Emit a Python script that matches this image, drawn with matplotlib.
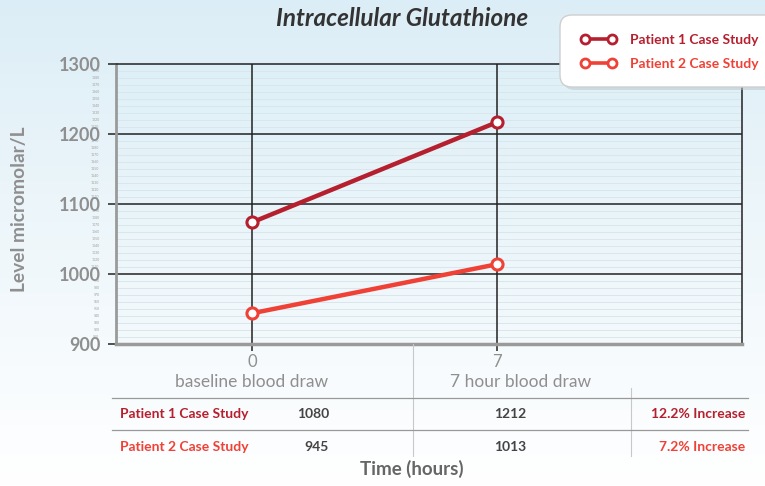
import numpy as np
import matplotlib
matplotlib.use("Agg")
import matplotlib.pyplot as plt
from matplotlib.patches import FancyBboxPatch

plt.rcParams['font.family'] = ['Lato', 'DejaVu Sans']

# data
hours = [0, 7]
patient1 = [1074, 1217]
patient2 = [944, 1014]
series_names = ["Patient 1 Case Study", "Patient 2 Case Study"]
draw_labels = ["baseline blood draw", "7 hour blood draw"]
table_base = ["1080", "945"]
table_7h = ["1212", "1013"]
table_change = ["12.2% Increase", "7.2% Increase"]

c1 = "#b51f2e"
c2 = "#ef4136"
gray = "#8f8f8f"

W, H = 765, 486
fig = plt.figure(figsize=(W / 100, H / 100), dpi=100)

# background gradient
bg = fig.add_axes([0, 0, 1, 1], zorder=-5)
grad = np.linspace(0, 1, 256)[:, None]
top = np.array([0.86, 0.93, 0.965])
bot = np.array([1.0, 1.0, 1.0])
img = top + (bot - top) * grad[..., None] ** 0.9
bg.imshow(img, aspect='auto', extent=[0, 1, 0, 1], origin='upper')
bg.axis('off')

def px(x0, y0, x1, y1):
    return [x0 / W, 1 - y1 / H, (x1 - x0) / W, (y1 - y0) / H]

ax = fig.add_axes(px(116, 64, 742, 344))
ax.set_facecolor('none')
# slightly bluer band in the upper part of the plot
band = np.linspace(0, 1, 256)[:, None]
btop = np.array([0.87, 0.94, 0.97])
bbot = np.array([0.955, 0.978, 0.988])
ax.imshow(btop + (bbot - btop) * band[..., None], aspect='auto',
          extent=[-3.9, 14, 900, 1300], origin='upper', zorder=0)

ax.set_xlim(-3.9, 14)
ax.set_ylim(900, 1300)

minor = [v for v in range(910, 1300, 10) if v % 100]
for v in minor:
    ax.axhline(v, color="#dbe6ec", lw=0.7, zorder=1)
for v in [1000, 1100, 1200]:
    ax.axhline(v, color="#222222", lw=1.1, zorder=2)
for v in [0, 7]:
    ax.axvline(v, color="#222222", lw=1.1, zorder=2)

ax.plot(hours, patient1, color=c1, lw=3.2, marker='o', ms=8, mfc='white',
        mec=c1, mew=2.2, zorder=5, label=series_names[0])
ax.plot(hours, patient2, color=c2, lw=3.2, marker='o', ms=8, mfc='white',
        mec=c2, mew=2.2, zorder=5, label=series_names[1])

ax.set_yticks([900, 1000, 1100, 1200, 1300])
ax.set_yticklabels(["900", "1000", "1100", "1200", "1300"], fontsize=13,
                   fontweight='bold', color=gray)
ax.set_yticks(minor, minor=True)
ax.set_yticklabels([str(v) for v in minor], minor=True, fontsize=2.5,
                   color="#a0a0a0")
ax.tick_params(axis='y', which='major', length=6, width=1.1, color="#222222", pad=5)
ax.tick_params(axis='y', which='minor', length=0, pad=12)
ax.set_xticks(hours)
ax.set_xticklabels([str(h) for h in hours], fontsize=12, color=gray)
ax.tick_params(axis='x', length=5, width=1.1, color="#222222", pad=2)

for s in ['top', 'right']:
    ax.spines[s].set_color("#222222")
    ax.spines[s].set_linewidth(1.1)
ax.spines['left'].set_color("#9a9a9a")
ax.spines['left'].set_linewidth(2)
ax.spines['bottom'].set_color("#9a9a9a")
ax.spines['bottom'].set_linewidth(2.5)
ax.spines['bottom'].set_zorder(6)

ax.set_ylabel("Level micromolar/L", fontsize=13.8, fontweight='bold', color=gray)
ax.yaxis.set_label_coords((28 - 116) / 626, (344 - 209) / 280)

fig.text(402 / W, 1 - 18 / H, "Intracellular Glutathione", fontsize=17.5,
         fontweight='bold', style='italic', color="#333333",
         ha='center', va='center')

# table and annotations in pixel coordinates
ov = fig.add_axes([0, 0, 1, 1], zorder=3)
ov.set_xlim(0, W)
ov.set_ylim(H, 0)
ov.axis('off')

ov.plot([413, 413], [344, 456], color="#c8c8c8", lw=0.8)
ov.plot([631, 631], [388, 456], color="#c8c8c8", lw=0.8)
ov.plot([112, 748], [398, 398], color="#999999", lw=0.9)
ov.plot([112, 748], [430, 430], color="#999999", lw=0.9)

ov.text(252, 382, draw_labels[0], fontsize=12.5, color=gray, ha='center', va='center')
ov.text(521, 382, draw_labels[1], fontsize=12.5, color=gray, ha='center', va='center')

row_y = [414, 447]
row_c = [c1, c2]
for i in range(2):
    y = row_y[i]
    ov.text(120, y, series_names[i], fontsize=10, fontweight='bold', color=row_c[i],
            ha='left', va='center')
    ov.text(329, y, table_base[i], fontsize=10, fontweight='bold', color="#444444",
            ha='right', va='center')
    ov.text(510, y, table_7h[i], fontsize=10, fontweight='bold', color="#444444",
            ha='center', va='center')
    ov.text(745, y, table_change[i], fontsize=10, fontweight='bold', color=row_c[i],
            ha='right', va='center')

ov.text(412, 469, "Time (hours)", fontsize=13.5, fontweight='bold', color="#666666",
        ha='center', va='center')

# legend box with shadow
shadow = FancyBboxPatch((563, 18), 220, 72, boxstyle="round,pad=0,rounding_size=12",
                        fc="#b8c4ca", ec='none', alpha=0.5, zorder=1)
box = FancyBboxPatch((560, 15), 220, 72, boxstyle="round,pad=0,rounding_size=12",
                     fc="white", ec="#cfcfcf", lw=1, zorder=2)
ov.add_patch(shadow)
ov.add_patch(box)
handles, labels = ax.get_legend_handles_labels()
leg = fig.legend(handles, labels, loc='upper left',
                 bbox_to_anchor=(568 / W, 1 - 21 / H), frameon=False,
                 numpoints=2, handlelength=2.6, handletextpad=1.0,
                 labelspacing=0.9, prop={'size': 10, 'weight': 'bold'},
                 labelcolor='linecolor')
leg.set_zorder(10)
for h in leg.legend_handles:
    h.set_markersize(6.5)
    h.set_linewidth(2.6)
    h.set_markeredgewidth(2)

fig.savefig("out.png", dpi=100)
